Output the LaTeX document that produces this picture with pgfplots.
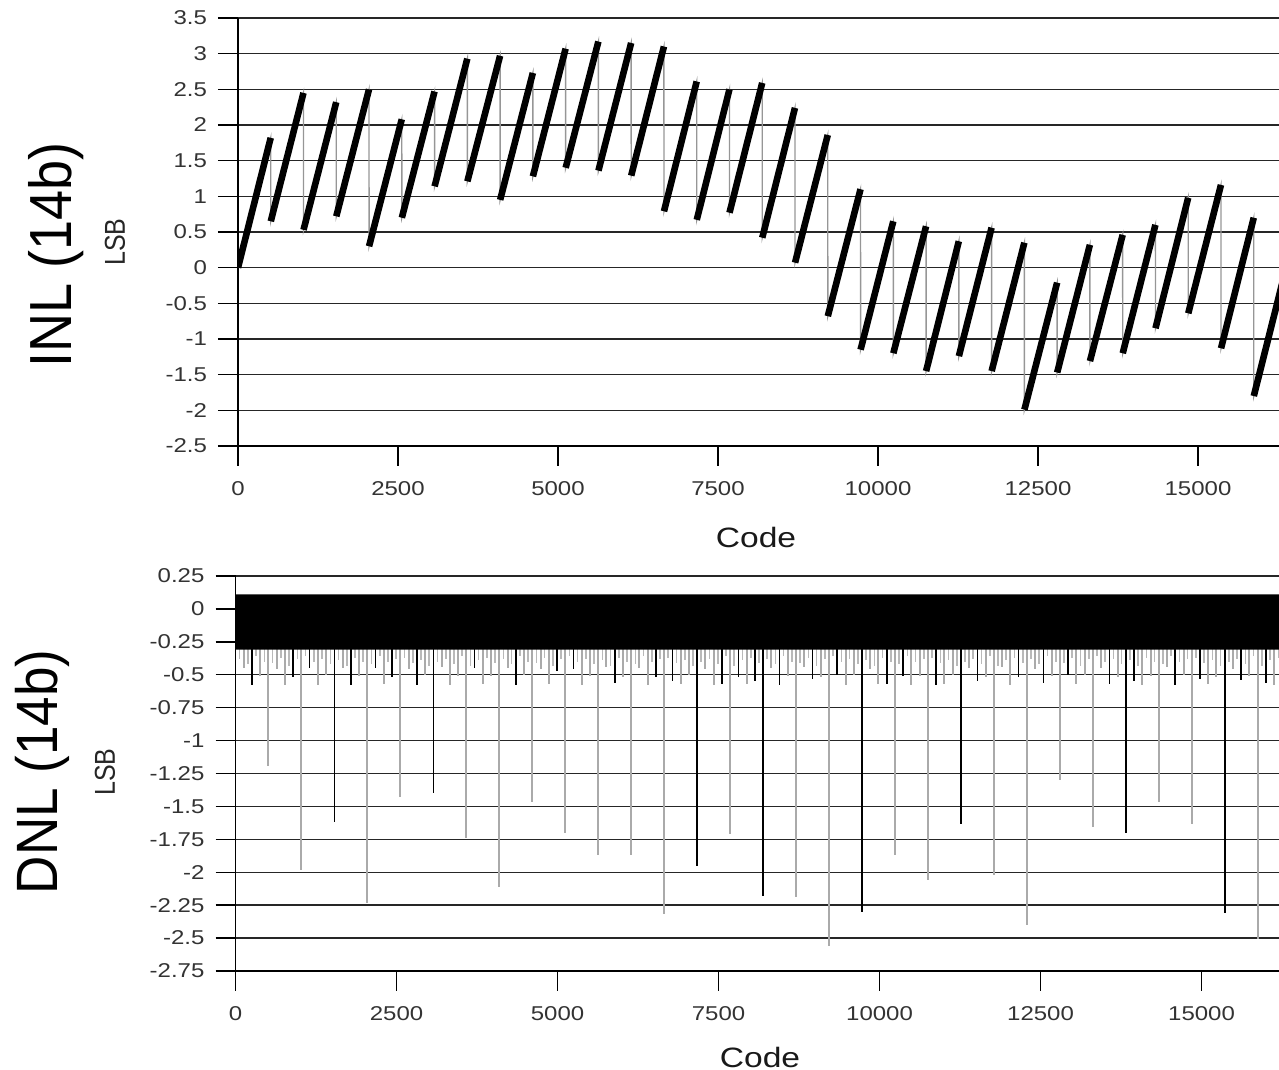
\documentclass[border=0pt]{standalone}
\usepackage{fontspec}
\setmainfont{Liberation Sans}[FakeStretch=1.2]
\newfontfamily\labfont{Liberation Sans}
\usepackage{pgfplots}
\usepackage{pgfplotstable}
\pgfplotsset{compat=1.18}
\definecolor{ticktext}{RGB}{51,51,51}
\definecolor{spikegray}{RGB}{170,170,170}
\definecolor{fringegray}{RGB}{185,185,185}
\definecolor{dropgray}{RGB}{150,150,150}

% INL: one rising ramp per 512 codes (start, end), nan breaks the thick trace
\pgfplotstableread{
x y
0 0.00
511 1.82
511.5 nan
512 0.65
1023 2.45
1023.5 nan
1024 0.53
1535 2.32
1535.5 nan
1536 0.72
2047 2.50
2047.5 nan
2048 0.30
2559 2.08
2559.5 nan
2560 0.70
3071 2.47
3071.5 nan
3072 1.14
3583 2.93
3583.5 nan
3584 1.21
4095 2.97
4095.5 nan
4096 0.95
4607 2.73
4607.5 nan
4608 1.28
5119 3.07
5119.5 nan
5120 1.40
5631 3.17
5631.5 nan
5632 1.36
6143 3.15
6143.5 nan
6144 1.29
6655 3.10
6655.5 nan
6656 0.79
7167 2.61
7167.5 nan
7168 0.67
7679 2.50
7679.5 nan
7680 0.77
8191 2.59
8191.5 nan
8192 0.42
8703 2.24
8703.5 nan
8704 0.07
9215 1.86
9215.5 nan
9216 -0.68
9727 1.10
9727.5 nan
9728 -1.15
10239 0.65
10239.5 nan
10240 -1.20
10751 0.58
10751.5 nan
10752 -1.45
11263 0.37
11263.5 nan
11264 -1.24
11775 0.56
11775.5 nan
11776 -1.45
12287 0.35
12287.5 nan
12288 -1.99
12799 -0.21
12799.5 nan
12800 -1.47
13311 0.32
13311.5 nan
13312 -1.31
13823 0.46
13823.5 nan
13824 -1.20
14335 0.60
14335.5 nan
14336 -0.85
14847 0.98
14847.5 nan
14848 -0.64
15359 1.16
15359.5 nan
15360 -1.13
15871 0.70
15871.5 nan
15872 -1.80
16383 0.02
}\inl

% DNL spikes drawn in gray
\pgfplotstableread{
x y
128 -0.45
384 -0.51
512 -1.19
640 -0.46
768 -0.58
1024 -1.98
1280 -0.58
1408 -0.50
1664 -0.45
1920 -0.51
2048 -2.23
2304 -0.57
2560 -1.43
2688 -0.46
2944 -0.50
3200 -0.44
3328 -0.58
3456 -0.51
3584 -1.74
3840 -0.57
3968 -0.51
4096 -2.11
4224 -0.45
4480 -0.50
4608 -1.47
4736 -0.46
4864 -0.57
5120 -1.70
5376 -0.58
5504 -0.51
5632 -1.87
5760 -0.44
6016 -0.52
6144 -1.87
6272 -0.45
6400 -0.58
6656 -2.32
6912 -0.57
7040 -0.50
7296 -0.46
7424 -0.58
7680 -1.71
7936 -0.57
8320 -0.45
8576 -0.51
8704 -2.19
8832 -0.44
9088 -0.52
9216 -2.56
9472 -0.58
9600 -0.50
9856 -0.46
9984 -0.57
10240 -1.87
10496 -0.58
10624 -0.51
10752 -2.06
11008 -0.57
11136 -0.50
11392 -0.45
11648 -0.52
11776 -2.02
11904 -0.44
12032 -0.58
12288 -2.40
12416 -0.46
12672 -0.51
12800 -1.30
13056 -0.57
13184 -0.50
13312 -1.66
13440 -0.45
13696 -0.52
14080 -0.58
14208 -0.51
14336 -1.47
14464 -0.44
14720 -0.50
14848 -1.63
15104 -0.57
15232 -0.52
15488 -0.46
15744 -0.51
15872 -2.51
16128 -0.58
16256 -0.50
}\dnlgray

% DNL spikes drawn in black
\pgfplotstableread{
x y
256 -0.58
896 -0.52
1152 -0.45
1536 -1.62
1792 -0.58
2176 -0.45
2432 -0.52
2816 -0.58
3072 -1.40
3712 -0.45
4352 -0.58
4992 -0.47
5248 -0.46
5888 -0.56
6528 -0.52
6784 -0.55
7168 -1.95
7552 -0.57
7808 -0.52
8064 -0.55
8192 -2.18
8448 -0.58
8960 -0.53
9344 -0.50
9728 -2.30
10112 -0.57
10368 -0.51
10880 -0.58
11264 -1.63
11520 -0.55
12160 -0.52
12544 -0.56
12928 -0.50
13568 -0.57
13824 -1.70
13952 -0.55
14592 -0.58
14976 -0.53
15360 -2.31
15616 -0.54
16000 -0.56
}\dnlblack

% short light-gray spikes just below the dense band
\pgfplotstableread{
x y
64 -0.38
192 -0.42
320 -0.36
448 -0.40
576 -0.41
704 -0.37
832 -0.43
960 -0.38
1088 -0.36
1216 -0.40
1344 -0.38
1472 -0.42
1600 -0.39
1728 -0.43
1856 -0.37
1984 -0.40
2112 -0.42
2240 -0.36
2368 -0.40
2496 -0.38
2624 -0.37
2752 -0.41
2880 -0.39
3008 -0.43
3136 -0.40
3264 -0.38
3392 -0.42
3520 -0.36
3648 -0.43
3776 -0.39
3904 -0.37
4032 -0.41
4160 -0.38
4288 -0.42
4416 -0.36
4544 -0.40
4672 -0.41
4800 -0.37
4928 -0.43
5056 -0.38
5184 -0.36
5312 -0.40
5440 -0.38
5568 -0.42
5696 -0.39
5824 -0.43
5952 -0.37
6080 -0.40
6208 -0.42
6336 -0.36
6464 -0.40
6592 -0.38
6720 -0.37
6848 -0.41
6976 -0.39
7104 -0.43
7232 -0.40
7360 -0.38
7488 -0.42
7616 -0.36
7744 -0.43
7872 -0.39
8000 -0.37
8128 -0.41
8256 -0.38
8384 -0.42
8512 -0.36
8640 -0.40
8768 -0.41
8896 -0.37
9024 -0.43
9152 -0.38
9280 -0.36
9408 -0.40
9536 -0.38
9664 -0.42
9792 -0.39
9920 -0.43
10048 -0.37
10176 -0.40
10304 -0.42
10432 -0.36
10560 -0.40
10688 -0.38
10816 -0.37
10944 -0.41
11072 -0.39
11200 -0.43
11328 -0.40
11456 -0.38
11584 -0.42
11712 -0.36
11840 -0.43
11968 -0.39
12096 -0.37
12224 -0.41
12352 -0.38
12480 -0.42
12608 -0.36
12736 -0.40
12864 -0.41
12992 -0.37
13120 -0.43
13248 -0.38
13376 -0.36
13504 -0.40
13632 -0.38
13760 -0.42
13888 -0.39
14016 -0.43
14144 -0.37
14272 -0.40
14400 -0.42
14528 -0.36
14656 -0.40
14784 -0.38
14912 -0.37
15040 -0.41
15168 -0.39
15296 -0.43
15424 -0.40
15552 -0.38
15680 -0.42
15808 -0.36
15936 -0.43
16064 -0.39
16192 -0.37
16320 -0.41
}\dnlfringe

\pgfplotsset{
  adc/.style={
    scale only axis,
    axis lines*=left,
    tick align=outside,
    major tick length=10pt,
    ymajorgrids,
    grid style={black!85, line width=0.7pt},
    axis line style={black, line width=0.7pt},
    tick style={black, line width=0.7pt},
    xtick={0,2500,5000,7500,10000,12500,15000},
    scaled ticks=false,
    /pgf/number format/1000 sep={},
    /pgf/number format/assume math mode=true,
    tick label style={font=\fontsize{10}{12}\selectfont, text=ticktext},
    yticklabel style={xshift=-2pt},
    xticklabel style={yshift=-4pt},
    xmin=0,
  }
}

\begin{document}
\begin{tikzpicture}
\useasboundingbox (0,0) rectangle (639.5pt,535pt);

% INL
\begin{axis}[adc, anchor=south west, at={(119pt,312pt)},
  width=520.5pt, height=214pt,
  xmax=16266, ymin=-2.5, ymax=3.5,
  ytick={-2.5,-2,-1.5,-1,-0.5,0,0.5,1,1.5,2,2.5,3,3.5}]
  \addplot[dropgray, line width=0.7pt, unbounded coords=discard] table {\inl};
  \addplot[black, line width=3.3pt, unbounded coords=jump] table {\inl};
\end{axis}

% DNL
\begin{axis}[adc, anchor=south west, at={(117.75pt,49.5pt)},
  width=521.75pt, height=197.5pt,
  xmax=16203, ymin=-2.75, ymax=0.25,
  ytick={-2.75,-2.5,-2.25,-2,-1.75,-1.5,-1.25,-1,-0.75,-0.5,-0.25,0,0.25}]
  \addplot[ycomb, fringegray, line width=0.8pt, mark=none] table {\dnlfringe};
  \addplot[ycomb, spikegray, line width=1pt, mark=none] table {\dnlgray};
  \addplot[ycomb, black, line width=0.8pt, mark=none] table {\dnlblack};
  \addplot[fill=black, draw=none] coordinates {(0,-0.31) (16383,-0.31) (16383,0.11) (0,0.11) (0,-0.31)};
\end{axis}

\node[rotate=90, font=\labfont\fontsize{27}{31}\selectfont] at (28pt,407.5pt) {\scalebox{1}[1.1]{INL (14b)}};
\node[rotate=90, font=\labfont\fontsize{12.5}{15}\selectfont, text=black!85] at (57.5pt,414pt) {\scalebox{1}[1.15]{LSB}};
\node[font=\fontsize{14}{16}\selectfont, text=black!90] at (378pt,266.5pt) {Code};
\node[rotate=90, font=\labfont\fontsize{26.5}{30}\selectfont] at (21pt,149pt) {\scalebox{1}[1.1]{DNL (14b)}};
\node[rotate=90, font=\labfont\fontsize{12.5}{15}\selectfont, text=black!85] at (52.5pt,149pt) {\scalebox{1}[1.15]{LSB}};
\node[font=\fontsize{14}{16}\selectfont, text=black!90] at (380pt,6.5pt) {Code};
\end{tikzpicture}
\end{document}
